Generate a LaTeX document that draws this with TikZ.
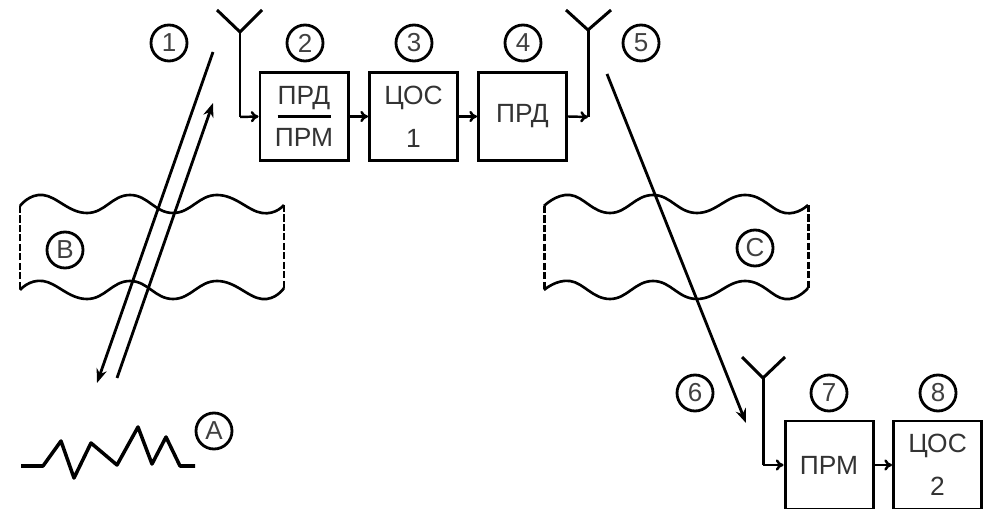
\documentclass[tikz,border=0pt]{standalone}
\usepackage{fontspec}
\usetikzlibrary{arrows.meta}
\setmainfont{Liberation Sans}
\tikzset{
  block/.style={draw, line width=.85pt, minimum width=.88cm, minimum height=.88cm, inner sep=0pt, align=center, text=black!80, font=\fontsize{7.5}{12.2}\selectfont},
  tag/.style={draw, circle, line width=.8pt, minimum size=.36cm, inner sep=0pt, text=black!75, font=\fontsize{7.4}{8}\selectfont},
  wire/.style={line width=.85pt},
  link/.style={line width=.7pt, -{To[length=2.2pt,width=3.2pt]}},
  ray/.style={line width=.8pt, -{Stealth[length=4pt,width=3pt]}},
  wave/.style={line width=.75pt, smooth, tension=.75},
  edge side/.style={line width=.85pt, dash pattern=on 2pt off .7pt}
}
\begin{document}
\begin{tikzpicture}[x=1cm,y=-1cm]
\useasboundingbox (0,0) rectangle (9.88,5.09);

\node[block] (prdprm) at (3.04,1.165) {ПРД\\ПРМ};
\node[block] (cos1) at (4.135,1.165) {ЦОС\\1};
\node[block] (prd) at (5.225,1.165) {ПРД};
\node[block] (prm) at (8.29,4.65) {ПРМ};
\node[block] (cos2) at (9.375,4.65) {ЦОС\\2};
\draw[wire] ([xshift=.19cm]prdprm.west) -- ([xshift=-.19cm]prdprm.east);

\node[tag] (n1) at (1.69,0.43) {1};
\node[tag] (n2) at (3.05,0.43) {2};
\node[tag] (n3) at (4.14,0.43) {3};
\node[tag] (n4) at (5.23,0.43) {4};
\node[tag] (n5) at (6.41,0.43) {5};
\node[tag] (n6) at (6.95,3.93) {6};
\node[tag] (n7) at (8.29,3.93) {7};
\node[tag] (n8) at (9.38,3.93) {8};
\node[tag] (tagb) at (0.65,2.50) {B};
\node[tag] (tagc) at (7.55,2.48) {C};
\node[tag] (taga) at (2.14,4.31) {A};

% antennas
\coordinate (ant1) at (2.40,0.32);
\coordinate (ant1in) at (2.40,1.17);
\coordinate (ant2) at (5.88,0.30);
\coordinate (ant2in) at (5.88,1.17);
\coordinate (ant3) at (7.63,3.78);
\coordinate (ant3in) at (7.63,4.65);
\draw[wire] (2.17,0.10) -- (ant1) -- (2.62,0.10);
\draw[wire] (5.66,0.10) -- (ant2) -- (6.11,0.10);
\draw[wire] (7.42,3.57) -- (ant3) -- (7.85,3.57);
\draw[wire] (ant1) -- (ant1in);
\draw[wire] (ant2) -- (ant2in);
\draw[wire] (ant3) -- (ant3in);

\draw[link] (ant1in) -- (prdprm.west);
\draw[link] (prdprm) -- (cos1);
\draw[link] (cos1) -- (prd);
\draw[link] (prd.east) -- (ant2in);
\draw[link] (ant3in) -- (prm.west);
\draw[link] (prm) -- (cos2);

% rays
\coordinate (r1a) at (2.13,0.52);
\coordinate (r1b) at (0.97,3.83);
\coordinate (r2a) at (1.17,3.78);
\coordinate (r2b) at (2.13,1.03);
\coordinate (r3a) at (6.07,0.74);
\coordinate (r3b) at (7.46,4.23);
\draw[ray] (r1a) -- (r1b);
\draw[ray] (r2a) -- (r2b);
\draw[ray] (r3a) -- (r3b);

% band B
\draw[wave] plot coordinates {(0.20,2.06) (0.43,1.95) (0.87,2.13) (1.30,1.95) (1.73,2.13) (2.17,1.95) (2.62,2.13) (2.84,2.05)};
\draw[wave] plot coordinates {(0.20,2.90) (0.43,2.81) (0.87,2.99) (1.30,2.81) (1.73,2.99) (2.17,2.81) (2.62,2.99) (2.84,2.88)};
\draw[edge side] (0.20,2.06) -- (0.20,2.90);
\draw[edge side] (2.84,2.05) -- (2.84,2.88);

% band C
\draw[wave] plot coordinates {(5.44,2.06) (5.70,1.95) (6.10,2.13) (6.53,1.95) (6.97,2.13) (7.45,1.95) (7.85,2.13) (8.08,2.05)};
\draw[wave] plot coordinates {(5.44,2.90) (5.70,2.81) (6.10,2.99) (6.53,2.81) (6.97,2.99) (7.45,2.81) (7.85,2.99) (8.08,2.88)};
\draw[edge side] (5.44,2.06) -- (5.44,2.90);
\draw[edge side] (8.08,2.05) -- (8.08,2.88);

% source
\draw[line width=1pt, line join=round] (0.21,4.66) -- (0.43,4.66) -- (0.61,4.41) -- (0.74,4.78) -- (0.91,4.43) -- (1.17,4.65) -- (1.38,4.27) -- (1.52,4.64) -- (1.66,4.37) -- (1.80,4.66) -- (1.95,4.66);
\end{tikzpicture}
\end{document}
